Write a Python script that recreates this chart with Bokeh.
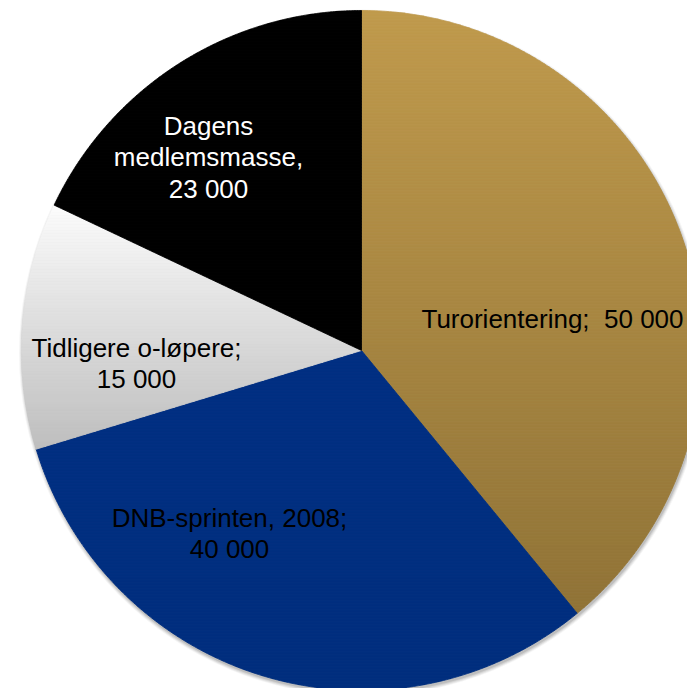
import numpy as np
from bokeh.plotting import figure
from bokeh.models import Range1d, ColumnDataSource
from bokeh.embed import file_html
from bokeh.resources import INLINE
from bokeh.core.properties import value

# ---- data ----
categories = ["Turorientering", "DNB-sprinten, 2008", "Tidligere o-løpere", "Dagens medlemsmasse"]
values = [50000, 40000, 15000, 23000]
labels = ["Turorientering; \u00a050 000",
          "DNB-sprinten, 2008;\n40 000",
          "Tidligere o-løpere;\n15 000",
          "Dagens\nmedlemsmasse,\n23 000"]

# ---- styles ----
# gradient stops (top, bottom) per slice; equal stops = solid fill
grad = [((192, 154, 76), (138, 110, 52)),
        ((0, 49, 135), (0, 46, 126)),
        ((252, 252, 252), (190, 190, 190)),
        ((0, 0, 0), (0, 0, 0))]
grad_span = ["pie", "pie", "slice", "pie"]
text_colors = ["black", "black", "black", "white"]
# label anchors in image pixels: (center x, first baseline y)
label_pos = [(552, 318), (229, 517), (136, 347), (208, 125)]
LINE_H = 31.5

W, H = 687, 688


def py(img_y):
    return H - img_y


CX, CY, R = 361, py(350), 340

p = figure(width=W, height=H, x_range=Range1d(0, W),
           y_range=Range1d(0, H), output_backend="svg", toolbar_location=None,
           min_border=0)
p.axis.visible = False
p.grid.visible = False
p.outline_line_color = None
p.background_fill_color = "white"
p.border_fill_color = "white"

# soft shadow
for i, a in enumerate([0.10, 0.08, 0.06, 0.04]):
    p.circle(x=[CX + 1], y=[CY - 2.5], radius=R + 0.5 + i * 1.0,
             fill_color="black", fill_alpha=a, line_color=None)


def clip(poly, y0, y1):
    def clip_half(pts, keep, inter):
        out = []
        n = len(pts)
        for i in range(n):
            cur, prev = pts[i], pts[i - 1]
            if keep(cur):
                if not keep(prev):
                    out.append(inter(prev, cur))
                out.append(cur)
            elif keep(prev):
                out.append(inter(prev, cur))
        return out

    def ix(yv):
        def f(a, b):
            t = (yv - a[1]) / (b[1] - a[1])
            return (a[0] + t * (b[0] - a[0]), yv)
        return f

    pts = clip_half(poly, lambda q: q[1] >= y0, ix(y0))
    if not pts:
        return pts
    pts = clip_half(pts, lambda q: q[1] <= y1, ix(y1))
    return pts


total = float(sum(values))
cum = np.concatenate([[0], np.cumsum(values)]) / total * 2 * np.pi

xs, ys, cols = [], [], []
BAND = 3.0
for k in range(len(values)):
    th = np.linspace(cum[k], cum[k + 1], 240)
    poly = [(CX, CY)] + [(CX + R * np.sin(t), CY + R * np.cos(t)) for t in th]
    (c0, c1) = grad[k]
    if grad_span[k] == "pie":
        top, bot = CY + R, CY - R
    else:
        yy = [q[1] for q in poly]
        top, bot = max(yy), min(yy)
    ymin = min(q[1] for q in poly)
    ymax = max(q[1] for q in poly)
    yb = ymin
    while yb < ymax:
        band = clip(poly, yb, min(yb + BAND, ymax))
        if len(band) >= 3:
            yc = yb + BAND / 2
            t = min(max((top - yc) / (top - bot), 0), 1)
            c = tuple(int(round(c0[j] + t * (c1[j] - c0[j]))) for j in range(3))
            col = "#%02x%02x%02x" % c
            xs.append([q[0] for q in band])
            ys.append([q[1] for q in band])
            cols.append(col)
        yb += BAND

src = ColumnDataSource(dict(xs=xs, ys=ys, c=cols))
p.patches(xs="xs", ys="ys", source=src, fill_color="c", line_color="c", line_width=0.8)

# labels
tx, ty, tt, tc = [], [], [], []
for k, lab in enumerate(labels):
    x0, b0 = label_pos[k]
    for j, line in enumerate(lab.split("\n")):
        tx.append(x0)
        ty.append(py(b0 + j * LINE_H))
        tt.append(line)
        tc.append(text_colors[k])
tsrc = ColumnDataSource(dict(x=tx, y=ty, t=tt, c=tc))
p.text(x="x", y="y", text="t", source=tsrc, text_color="c",
       text_font=value("Liberation Sans"), text_font_size="26px",
       text_align="center", text_baseline="alphabetic")

open("out.html", "w").write(file_html(p, INLINE))
